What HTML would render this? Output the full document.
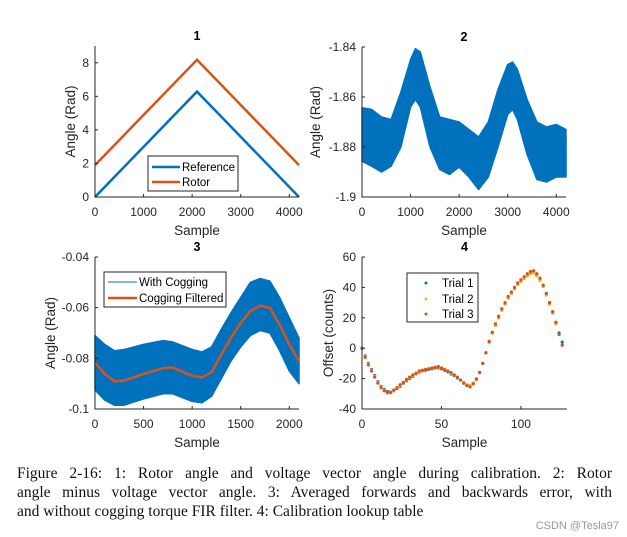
<!DOCTYPE html>
<html><head><meta charset="utf-8"><style>
body{margin:0;background:#fff;width:627px;height:537px;overflow:hidden;position:relative}
svg{position:absolute;left:0;top:0}
.cap{position:absolute;left:17px;top:464px;width:595px;font-family:"Liberation Serif",serif;font-size:15.5px;line-height:19px;color:#111}
.cap div{text-align:justify;text-align-last:justify;white-space:nowrap}
.cap div.last{text-align-last:left}
.wm{position:absolute;right:8px;top:520px;font-family:"Liberation Sans",sans-serif;font-size:11px;color:#999}
</style></head><body>
<svg id="fig" width="627" height="460" font-family="Liberation Sans, sans-serif"></svg>
<div class="cap"><div>Figure 2-16: 1: Rotor angle and voltage vector angle during calibration. 2: Rotor</div><div>angle minus voltage vector angle. 3: Averaged forwards and backwards error, with</div><div class="last">and without cogging torque FIR filter. 4: Calibration lookup table</div></div>
<div class="wm">CSDN @Tesla97</div>
<script>
// Plot 1
const p1Samples=[0,2100,4200];
const p1Reference=[0,6.28,0];
const p1Rotor=[1.9,8.18,1.9];
const p1XTicks=[0,1000,2000,3000,4000];
const p1YTicks=[0,2,4,6,8];
// Plot 2
const p2Samples=[0,200,400,600,800,1000,1100,1200,1400,1600,1800,2000,2200,2400,2600,2800,3000,3100,3200,3400,3600,3800,4000,4200];
const p2Upper=[-1.8643,-1.865,-1.868,-1.869,-1.858,-1.845,-1.8407,-1.842,-1.856,-1.868,-1.869,-1.870,-1.873,-1.876,-1.870,-1.857,-1.847,-1.846,-1.849,-1.861,-1.870,-1.872,-1.871,-1.873];
const p2Lower=[-1.8857,-1.8877,-1.890,-1.8877,-1.880,-1.864,-1.861,-1.864,-1.880,-1.889,-1.891,-1.888,-1.892,-1.897,-1.892,-1.880,-1.867,-1.865,-1.869,-1.883,-1.893,-1.894,-1.892,-1.892];
const p2XTicks=[0,1000,2000,3000,4000];
const p2YTicks=[-1.9,-1.88,-1.86,-1.84];
// Plot 3
const p3Samples=[0,100,200,300,500,700,800,1000,1100,1200,1300,1400,1500,1600,1700,1800,1900,2000,2100];
const p3Filtered=[-0.0817,-0.0862,-0.0891,-0.0888,-0.0862,-0.0839,-0.0836,-0.0869,-0.0875,-0.0855,-0.0785,-0.0719,-0.0660,-0.0614,-0.0592,-0.0601,-0.0667,-0.0745,-0.0811];
const p3CogUpper=[-0.071,-0.0745,-0.077,-0.0765,-0.0745,-0.073,-0.0735,-0.0765,-0.0775,-0.0755,-0.0685,-0.062,-0.056,-0.050,-0.0485,-0.0495,-0.056,-0.064,-0.072];
const p3CogLower=[-0.0925,-0.0965,-0.0985,-0.0985,-0.096,-0.094,-0.094,-0.097,-0.0975,-0.095,-0.088,-0.081,-0.0755,-0.071,-0.069,-0.070,-0.077,-0.085,-0.090];
const p3XTicks=[0,500,1000,1500,2000];
const p3YTicks=[-0.1,-0.08,-0.06,-0.04];
// Plot 4
const p4Trial1=[0,-5,-10,-14,-18,-22,-25,-27,-28.5,-29,-28,-26.5,-25,-23,-21.5,-20,-18.5,-17,-16,-15,-14.5,-14,-13.5,-13,-13,-13.5,-14.5,-15.5,-17,-18,-19.5,-21,-23,-24.5,-25,-23,-20,-16,-10,-3,4,10,15,20,25,29,33,36,39,42,44,46,48,49.5,50,48,45,41,36,30,24,17,10,4];
const p4Trial2=[0,-5.5,-10.5,-14.5,-18.5,-22.5,-25.5,-27.5,-29.5,-29.5,-28,-26,-24.5,-22.5,-21,-19.5,-18,-17,-16,-15,-14,-13.5,-13,-12.5,-12.5,-13,-14,-15,-16.5,-17.5,-19,-21,-22.5,-24,-24.5,-23,-20,-16,-10,-3,4,10,15,20,25,29,33,36,39,42,44,46,47.5,49,49.5,47.5,44.5,40.5,35,29,23,16,9,2];
const p4Trial3=[0,-6,-11,-15,-19,-23,-26,-28,-29,-29,-27.5,-26,-24,-22.5,-20.5,-19,-17.5,-16.5,-15,-14.5,-14,-13.5,-13,-12.5,-12,-13,-14,-15,-16,-17.5,-19,-21,-23,-24.5,-25.5,-23.5,-20.5,-16,-10,-3,4.5,10.5,16,21,26,30,34,37,40,43,45,47,49,50.5,51,49,46,41.5,36,30,24,17,9,2];
const p4XTicks=[0,50,100];
const p4YTicks=[-40,-20,0,20,40,60];

const NS="http://www.w3.org/2000/svg";
const svg=document.getElementById('fig');
function el(tag,attrs,parent){const e=document.createElementNS(NS,tag);for(const k in attrs)e.setAttribute(k,attrs[k]);(parent||svg).appendChild(e);return e;}
function txt(s,attrs,parent){const e=el('text',attrs,parent);e.textContent=s;return e;}
function scale(d0,d1,r0,r1){return v=>r0+(v-d0)/(d1-d0)*(r1-r0);}
const AX='#262626';

function axes(g,o){
  const X=scale(o.xd[0],o.xd[1],o.l,o.r),Y=scale(o.yd[0],o.yd[1],o.b,o.t);
  return {X,Y,draw(){
    const a=el('path',{d:`M${o.l},${o.t}V${o.b}H${o.r}`,stroke:AX,fill:'none','stroke-width':1},g);
    
    o.xt.forEach(v=>{const x=X(v);
      el('line',{x1:x,x2:x,y1:o.b,y2:o.b-3,stroke:AX},g);
      const t=txt(String(v),{x:x,y:o.b+19,'text-anchor':'middle','font-size':12,fill:AX},g);
      });
    o.yt.forEach(v=>{const y=Y(v);
      el('line',{x1:o.l,x2:o.l+3,y1:y,y2:y,stroke:AX},g);
      const t=txt(String(v),{x:o.l-6,y:y+4,'text-anchor':'end','font-size':12,fill:AX},g);
      });
    const xl=txt('Sample',{x:(o.l+o.r)/2,y:o.b+38,'text-anchor':'middle','font-size':13.5,fill:AX},g);
    
    const yl=txt(o.ylab,{x:0,y:0,'text-anchor':'middle','font-size':13.5,fill:AX,transform:`translate(${o.yx},${(o.t+o.b)/2}) rotate(-90)`},g);
    
    const ti=txt(o.title,{x:(o.l+o.r)/2,y:o.t-6,'text-anchor':'middle','font-size':12.5,'font-weight':'bold',fill:'#000'},g);
    
  }};
}
function pathOf(xs,ys,X,Y){return xs.map((x,i)=>(i?'L':'M')+X(x).toFixed(1)+','+Y(ys[i]).toFixed(1)).join('');}
const BLUE='#0072BD',ORANGE='#D95319',YEL='#EDB120';

// ---- Plot 1
const g1=el('g',{});
const a1=axes(g1,{l:95,r:299,t:46,b:197,xd:[0,4200],yd:[0,9],xt:p1XTicks,yt:p1YTicks,ylab:'Angle (Rad)',yx:75,title:'1'});
let s=el('path',{d:pathOf(p1Samples,p1Reference,a1.X,a1.Y),stroke:BLUE,'stroke-width':2.5,fill:'none'},g1);

s=el('path',{d:pathOf(p1Samples,p1Rotor,a1.X,a1.Y),stroke:ORANGE,'stroke-width':2.5,fill:'none'},g1);

a1.draw();
let lg=el('g',{},g1);
el('rect',{x:148,y:156,width:90,height:35,fill:'#fff',stroke:AX},lg);
el('line',{x1:152,x2:180,y1:167,y2:167,stroke:BLUE,'stroke-width':2.5},lg);
el('line',{x1:152,x2:180,y1:182,y2:182,stroke:ORANGE,'stroke-width':2.5},lg);
let t=txt('Reference',{x:182,y:171,'font-size':11.5,fill:'#000'},lg);
t=txt('Rotor',{x:182,y:186,'font-size':11.5,fill:'#000'},lg);

// ---- Plot 2
const g2=el('g',{});
const a2=axes(g2,{l:362,r:566,t:47,b:197,xd:[0,4200],yd:[-1.9,-1.84],xt:p2XTicks,yt:p2YTicks,ylab:'Angle (Rad)',yx:320,title:'2'});
const band2=pathOf(p2Samples,p2Upper,a2.X,a2.Y)+pathOf(p2Samples.slice().reverse(),p2Lower.slice().reverse(),a2.X,a2.Y).replace('M','L')+'Z';
s=el('path',{d:band2,fill:BLUE,stroke:BLUE,'stroke-width':1.5,'stroke-linejoin':'round'},g2);

a2.draw();

// ---- Plot 3
const g3=el('g',{});
const a3=axes(g3,{l:95,r:299,t:257,b:409,xd:[0,2100],yd:[-0.1,-0.04],xt:p3XTicks,yt:p3YTicks,ylab:'Angle (Rad)',yx:55,title:'3'});
const band3=pathOf(p3Samples,p3CogUpper,a3.X,a3.Y)+pathOf(p3Samples.slice().reverse(),p3CogLower.slice().reverse(),a3.X,a3.Y).replace('M','L')+'Z';
s=el('path',{d:band3,fill:BLUE,stroke:BLUE,'stroke-width':1.5,'stroke-linejoin':'round'},g3);

s=el('path',{d:pathOf(p3Samples,p3Filtered,a3.X,a3.Y),stroke:ORANGE,'stroke-width':2.5,fill:'none','stroke-linejoin':'round'},g3);

a3.draw();
lg=el('g',{},g3);
el('rect',{x:104,y:272,width:122,height:35,fill:'#fff',stroke:AX},lg);
el('line',{x1:108,x2:137,y1:282,y2:282,stroke:BLUE,'stroke-width':1},lg);
el('line',{x1:108,x2:137,y1:298,y2:298,stroke:ORANGE,'stroke-width':2.5},lg);
t=txt('With Cogging',{x:139,y:286,'font-size':11.5,fill:'#000'},lg);
t=txt('Cogging Filtered',{x:139,y:302,'font-size':11.5,fill:'#000'},lg);

// ---- Plot 4
const g4=el('g',{});
const a4=axes(g4,{l:362,r:567,t:257,b:409,xd:[0,129],yd:[-40,60],xt:p4XTicks,yt:p4YTicks,ylab:'Offset (counts)',yx:333,title:'4'});
[[p4Trial1,BLUE,'trial-1'],[p4Trial2,YEL,'trial-2'],[p4Trial3,ORANGE,'trial-3']].forEach(([arr,c,n])=>{
  const sg=el('g',{fill:c},g4);
  arr.forEach((v,i)=>{const d=el('circle',{cx:a4.X(i*2),cy:a4.Y(v),r:1.6},sg);
    });
});
a4.draw();
lg=el('g',{},g4);
el('rect',{x:407,y:273,width:71,height:49,fill:'#fff',stroke:AX},lg);
[['Trial 1',BLUE,283],['Trial 2',YEL,299],['Trial 3',ORANGE,314]].forEach(([n,c,y])=>{
  el('circle',{cx:426,cy:y,r:1.5,fill:c},lg);
  const e=txt(n,{x:442,y:y+4,'font-size':11.5,fill:'#000'},lg);
  
});
</script>
</body></html>
